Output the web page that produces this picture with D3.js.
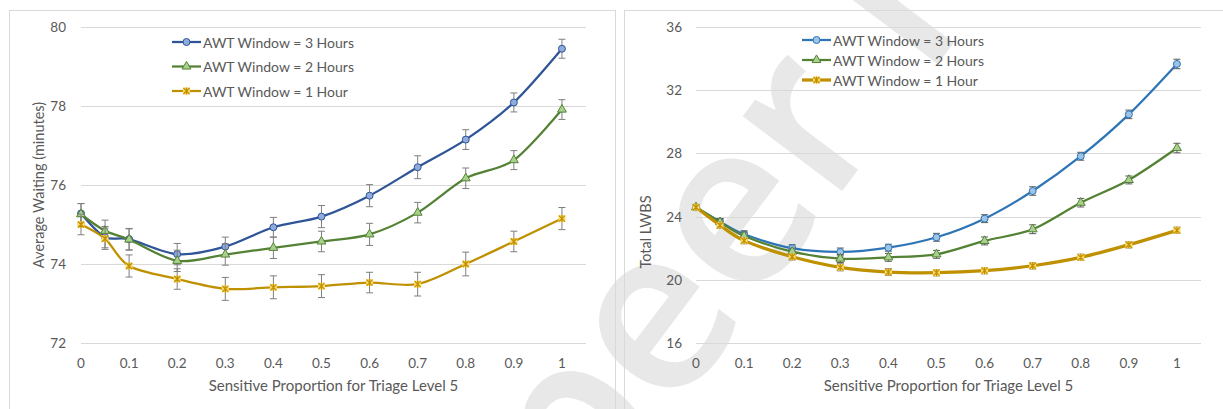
<!DOCTYPE html>
<html>
<head>
<meta charset="utf-8">
<script src="https://cdn.jsdelivr.net/npm/d3@7"></script>
<style>
    body { margin: 0; background: #fff; }
    svg text { font-family: Lato, "Open Sans", sans-serif; fill: #595959; }
</style>
</head>
<body>
<svg id="chart" width="1223" height="409"></svg>
<script>
// x values (sensitive proportion) shared by both panels
var proportions = [0, 0.05, 0.1, 0.2, 0.3, 0.4, 0.5, 0.6, 0.7, 0.8, 0.9, 1];
var xTicks = [0, 0.1, 0.2, 0.3, 0.4, 0.5, 0.6, 0.7, 0.8, 0.9, 1];
var seriesNames = ["AWT Window = 3 Hours", "AWT Window = 2 Hours", "AWT Window = 1 Hour"];

// left panel: average waiting (minutes)
var waiting3h    = [75.28, 74.68, 74.63, 74.25, 74.44, 74.93, 75.20, 75.73, 76.45, 77.15, 78.09, 79.45];
var waiting3hErr = [0.25, 0.27, 0.27, 0.27, 0.24, 0.25, 0.28, 0.28, 0.29, 0.25, 0.24, 0.24];
var waiting2h    = [75.26, 74.84, 74.62, 74.08, 74.24, 74.41, 74.57, 74.75, 75.30, 76.17, 76.63, 77.91];
var waiting2hErr = [0.27, 0.27, 0.27, 0.27, 0.27, 0.27, 0.26, 0.28, 0.26, 0.26, 0.24, 0.25];
var waiting1h    = [75.00, 74.64, 73.95, 73.62, 73.37, 73.41, 73.44, 73.53, 73.49, 74.00, 74.57, 75.15];
var waiting1hErr = [0.26, 0.27, 0.28, 0.26, 0.29, 0.29, 0.29, 0.26, 0.30, 0.30, 0.26, 0.28];
var waitingTicks = [72, 74, 76, 78, 80];

// right panel: total LWBS
var lwbs3h    = [24.59, 23.68, 22.88, 22.00, 21.76, 22.03, 22.69, 23.87, 25.62, 27.82, 30.47, 33.66];
var lwbs3hErr = [0.15, 0.2, 0.22, 0.22, 0.25, 0.22, 0.25, 0.25, 0.27, 0.25, 0.27, 0.3];
var lwbs2h    = [24.59, 23.65, 22.77, 21.78, 21.34, 21.42, 21.61, 22.46, 23.20, 24.88, 26.32, 28.34];
var lwbs2hErr = [0.15, 0.2, 0.25, 0.22, 0.25, 0.25, 0.25, 0.25, 0.28, 0.27, 0.25, 0.3];
var lwbs1h    = [24.59, 23.45, 22.48, 21.46, 20.79, 20.49, 20.45, 20.58, 20.89, 21.42, 22.22, 23.13];
var lwbs1hErr = [0.15, 0.2, 0.2, 0.2, 0.22, 0.22, 0.2, 0.2, 0.2, 0.2, 0.2, 0.2];
var lwbsTicks = [16, 20, 24, 28, 32, 36];

var svg = d3.select("#chart");

// faint watermark behind everything
svg.append("text")
    .attr("transform", "translate(585,532) rotate(-53)")
    .style("font-family", "'Open Sans', sans-serif")
    .style("font-weight", "600")
    .style("font-size", "230px")
    .style("fill", "#e8e8e8")
    .text("peer review");

var drawMarker = function (g, kind, colors) {
    if (kind === "circle") {
        g.append("circle").attr("r", 3.5)
            .attr("fill", colors.fill).attr("stroke", colors.line).attr("stroke-width", 1);
    } else if (kind === "triangle") {
        g.append("path").attr("d", d3.symbol().type(d3.symbolTriangle).size(34)())
            .attr("fill", colors.fill).attr("stroke", colors.line).attr("stroke-width", 1);
    } else {
        g.append("rect").attr("x", -3.5).attr("y", -3.5).attr("width", 7).attr("height", 7)
            .attr("fill", colors.fill);
        g.append("path").attr("d", "M-3,-3L3,3M-3,3L3,-3M0,-3.5L0,3.5")
            .attr("stroke", colors.line).attr("stroke-width", 1.2);
    }
};

var drawPanel = function (cfg) {
    var g = svg.append("g");

    g.append("rect")
        .attr("x", cfg.box[0] + 0.5).attr("y", 10.5)
        .attr("width", cfg.box[1]).attr("height", 440)
        .attr("fill", "none").attr("stroke", "#d9d9d9");

    var x = d3.scaleLinear().domain([0, 1.05]).range(cfg.xRange);
    var y = d3.scaleLinear().domain(d3.extent(cfg.yTicks)).range([343, 27]);

    // gridlines
    g.selectAll(".grid").data(cfg.yTicks).enter().append("line")
        .attr("x1", cfg.xRange[0]).attr("x2", cfg.xRange[1])
        .attr("y1", function (d) { return Math.round(y(d)) + 0.5; })
        .attr("y2", function (d) { return Math.round(y(d)) + 0.5; })
        .attr("stroke", "#d9d9d9").attr("stroke-width", 1);

    g.selectAll(".ylab").data(cfg.yTicks).enter().append("text")
        .attr("x", cfg.yLabelX).attr("y", function (d) { return y(d); })
        .attr("text-anchor", "end").attr("dominant-baseline", "central")
        .style("font-size", "13.5px")
        .text(function (d) { return d; });

    g.selectAll(".xlab").data(xTicks).enter().append("text")
        .attr("x", function (d) { return x(d); }).attr("y", 368)
        .attr("text-anchor", "middle")
        .style("font-size", "13.5px")
        .text(function (d) { return d; });

    g.append("text")
        .attr("x", (cfg.xRange[0] + cfg.xRange[1]) / 2).attr("y", 391)
        .attr("text-anchor", "middle")
        .style("font-size", "15px")
        .text("Sensitive Proportion for Triage Level 5");

    g.append("text")
        .attr("transform", "translate(" + cfg.yTitle[0] + "," + cfg.yTitle[1] + ") rotate(-90)")
        .attr("text-anchor", "middle").attr("dominant-baseline", "central")
        .style("font-size", "14.5px")
        .text(cfg.yTitleText);

    var line = d3.line()
        .x(function (d) { return x(d[0]); })
        .y(function (d) { return y(d[1]); })
        .curve(d3.curveCardinal.tension(0.1));

    cfg.series.forEach(function (s) {
        var pts = proportions.map(function (p, i) { return [p, s.values[i], s.errors[i]]; });

        g.append("path")
            .datum(pts)
            .attr("d", line)
            .attr("fill", "none")
            .attr("stroke", s.colors.line)
            .attr("stroke-width", s.width);

        var eb = g.selectAll(null).data(pts).enter().append("g")
            .attr("stroke", cfg.errColor).attr("stroke-width", 1);
        eb.append("line")
            .attr("x1", function (d) { return x(d[0]); }).attr("x2", function (d) { return x(d[0]); })
            .attr("y1", function (d) { return y(d[1] - d[2]); }).attr("y2", function (d) { return y(d[1] + d[2]); });
        eb.append("line")
            .attr("x1", function (d) { return x(d[0]) - 3.5; }).attr("x2", function (d) { return x(d[0]) + 3.5; })
            .attr("y1", function (d) { return y(d[1] + d[2]); }).attr("y2", function (d) { return y(d[1] + d[2]); });
        eb.append("line")
            .attr("x1", function (d) { return x(d[0]) - 3.5; }).attr("x2", function (d) { return x(d[0]) + 3.5; })
            .attr("y1", function (d) { return y(d[1] - d[2]); }).attr("y2", function (d) { return y(d[1] - d[2]); });

        g.selectAll(null).data(pts).enter().append("g")
            .attr("transform", function (d) { return "translate(" + x(d[0]) + "," + y(d[1]) + ")"; })
            .each(function () { drawMarker(d3.select(this), s.marker, s.colors); });
    });

    // legend
    cfg.series.forEach(function (s, i) {
        var ly = cfg.legend[2] + i * cfg.legend[3];
        g.append("line")
            .attr("x1", cfg.legend[0]).attr("x2", cfg.legend[0] + 29)
            .attr("y1", ly).attr("y2", ly)
            .attr("stroke", s.colors.line).attr("stroke-width", s.width);
        var m = g.append("g").attr("transform", "translate(" + (cfg.legend[0] + 14.5) + "," + ly + ")");
        drawMarker(m, s.marker, s.colors);
        g.append("text")
            .attr("x", cfg.legend[1]).attr("y", ly)
            .attr("dominant-baseline", "central")
            .style("font-size", "14px")
            .text(seriesNames[i]);
    });
};

drawPanel({
    box: [9, 606],
    xRange: [81, 586],
    yTicks: waitingTicks,
    yLabelX: 66,
    yTitle: [38, 185],
    yTitleText: "Average Waiting (minutes)",
    errColor: "#7f7f7f",
    legend: [172, 203, 42, 24.5],
    series: [
        { values: waiting3h, errors: waiting3hErr, marker: "circle", width: 2.25,
          colors: { line: "#2f5597", fill: "#8faadc" } },
        { values: waiting2h, errors: waiting2hErr, marker: "triangle", width: 2.25,
          colors: { line: "#548235", fill: "#a9d18e" } },
        { values: waiting1h, errors: waiting1hErr, marker: "star", width: 2.25,
          colors: { line: "#bf9000", fill: "#ffd966" } }
    ]
});

drawPanel({
    box: [624, 620],
    xRange: [696, 1201],
    yTicks: lwbsTicks,
    yLabelX: 682,
    yTitle: [645, 232],
    yTitleText: "Total LWBS",
    errColor: "#595959",
    legend: [802, 833, 40, 20],
    series: [
        { values: lwbs3h, errors: lwbs3hErr, marker: "circle", width: 2.25,
          colors: { line: "#2e75b6", fill: "#9dc3e6" } },
        { values: lwbs2h, errors: lwbs2hErr, marker: "triangle", width: 2.25,
          colors: { line: "#548235", fill: "#a9d18e" } },
        { values: lwbs1h, errors: lwbs1hErr, marker: "star", width: 3.25,
          colors: { line: "#bf9000", fill: "#ffd966" } }
    ]
});
</script>
</body>
</html>
